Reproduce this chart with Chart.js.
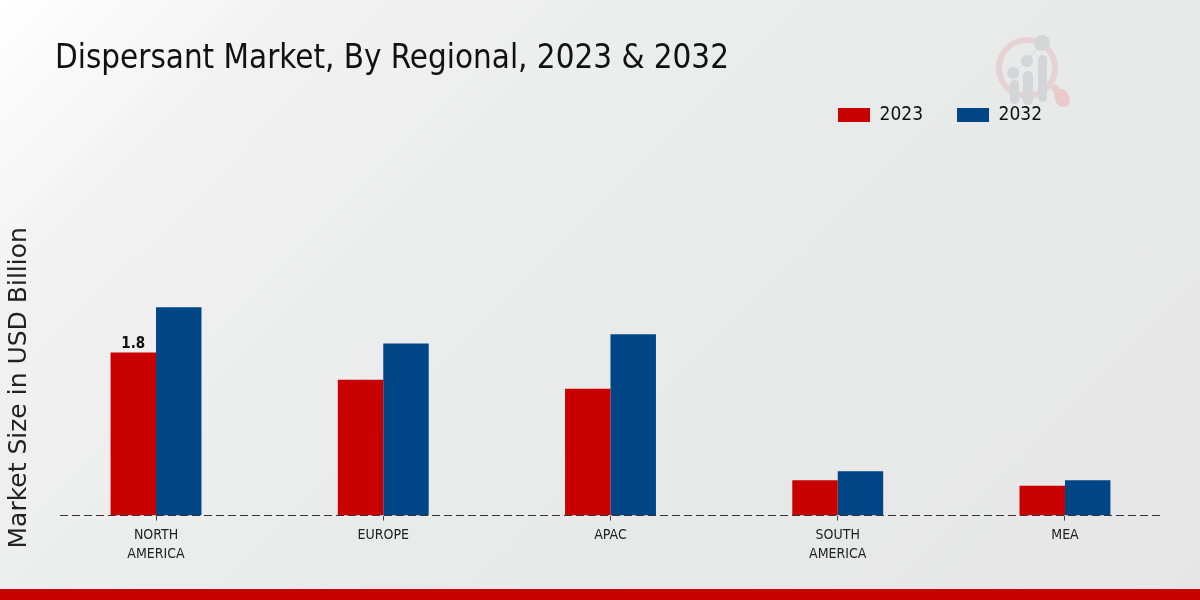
<!DOCTYPE html>
<html><head><meta charset="utf-8">
<script src="https://cdn.jsdelivr.net/npm/chart.js@4"></script>
<style>
html,body{margin:0;padding:0;width:1200px;height:600px;overflow:hidden}
body{position:relative;background:linear-gradient(135deg,#ffffff 0%,#f1f1f2 18%,#e9eaea 50%,#e6e6e7 100%)}
#logo{position:absolute;left:985px;top:25px;width:95px;height:90px}
#c{position:absolute;left:0;top:0}
#foot{position:absolute;left:0;top:589px;width:1200px;height:11px;background:#c80000}
</style></head><body>
<svg id="logo" viewBox="0 0 95 90">
<circle cx="42" cy="43" r="28" fill="none" stroke="#e5d3d4" stroke-width="6"/>
<path d="M70 63 L79 74" stroke="#e9cdce" stroke-width="7" stroke-linecap="round"/>
<path d="M76 71 L78 75" stroke="#e9c9ca" stroke-width="14" stroke-linecap="round"/>
<path d="M28 48 L42 36 L57 18" stroke="#d8dadb" stroke-width="1" fill="none"/>
<g fill="#d3d5d7">
<rect x="25" y="55" width="9" height="24" rx="4.5"/><rect x="38" y="46" width="10" height="34" rx="5"/><rect x="53" y="30" width="9" height="47" rx="4.5"/>
<circle cx="28" cy="48" r="6"/><circle cx="42" cy="36" r="6"/><circle cx="57" cy="18" r="8"/>
</g></svg>
<canvas id="c" width="1200" height="600"></canvas>
<div id="foot"></div>
<script>
const categories=[["NORTH","AMERICA"],"EUROPE","APAC",["SOUTH","AMERICA"],"MEA"];
const values2023=[1.8,1.5,1.4,0.39,0.33];
const values2032=[2.3,1.9,2.0,0.49,0.39];
const seriesNames=["2023","2032"];
const chartTitle="Dispersant Market, By Regional, 2023 & 2032";
const yTitle="Market Size in USD Billion";
const cond='"DejaVu Sans Condensed","DejaVu Sans"';
const spacer={position:'top',weight:1,fullSize:true,options:{},left:0,top:0,right:0,bottom:0,width:0,height:0,
 isHorizontal(){return true;},
 update(w){this.width=w;this.height=125.5;},
 draw(){}};
const deco={id:'deco',
 beforeInit(ch){Chart.layouts.addBox(ch,spacer);},
 afterLayout(ch){ch.legend.right=1076;},
 beforeDraw(ch){const g=ch.ctx;g.save();g.fillStyle='#111';g.font='32.85px '+cond;g.textBaseline='alphabetic';g.textAlign='left';g.fillText(chartTitle,55,68);g.restore();},
 afterDatasetsDraw(ch){const g=ch.ctx,y=Math.floor(ch.scales.y.getPixelForValue(0));g.save();
  g.strokeStyle='#333';g.lineWidth=1;g.setLineDash([8,4]);g.beginPath();g.moveTo(60,y+0.5);g.lineTo(1160,y+0.5);g.stroke();g.setLineDash([]);
  const b=ch.getDatasetMeta(0).data[0];g.fillStyle='#111';g.font='bold 15px '+cond;g.textAlign='center';g.textBaseline='alphabetic';g.fillText(String(values2023[0]),b.x,b.y-4);g.restore();}
};
new Chart(document.getElementById('c'),{type:'bar',plugins:[deco],
 data:{labels:categories,datasets:[
  {label:seriesNames[0],data:values2023,backgroundColor:'#c80000'},
  {label:seriesNames[1],data:values2032,backgroundColor:'#004586'}]},
 options:{responsive:false,animation:false,devicePixelRatio:1,
  layout:{padding:{left:0,right:21.4,top:71.5,bottom:31.6}},
  datasets:{bar:{categoryPercentage:0.4,barPercentage:1}},
  plugins:{title:{display:false},tooltip:{enabled:false},
   legend:{display:true,position:'top',align:'end',
    labels:{boxWidth:32,boxHeight:14,padding:34,color:'#111',font:{family:cond,size:19}}}},
  scales:{
   x:{grid:{display:true,drawOnChartArea:false,tickLength:5,color:'#444',offset:false},border:{display:false},
      ticks:{color:'#222',font:{family:cond,size:14,lineHeight:1.35},padding:5,maxRotation:0,autoSkip:false}},
   y:{min:0,max:2.82,grid:{display:false},border:{display:false},
      ticks:{display:false},afterFit(s){s.width=42.4;},
      title:{display:true,text:yTitle,color:'#222',font:{family:'"DejaVu Sans"',size:25},padding:{top:4,bottom:2}}}
  }}});
</script></body></html>
